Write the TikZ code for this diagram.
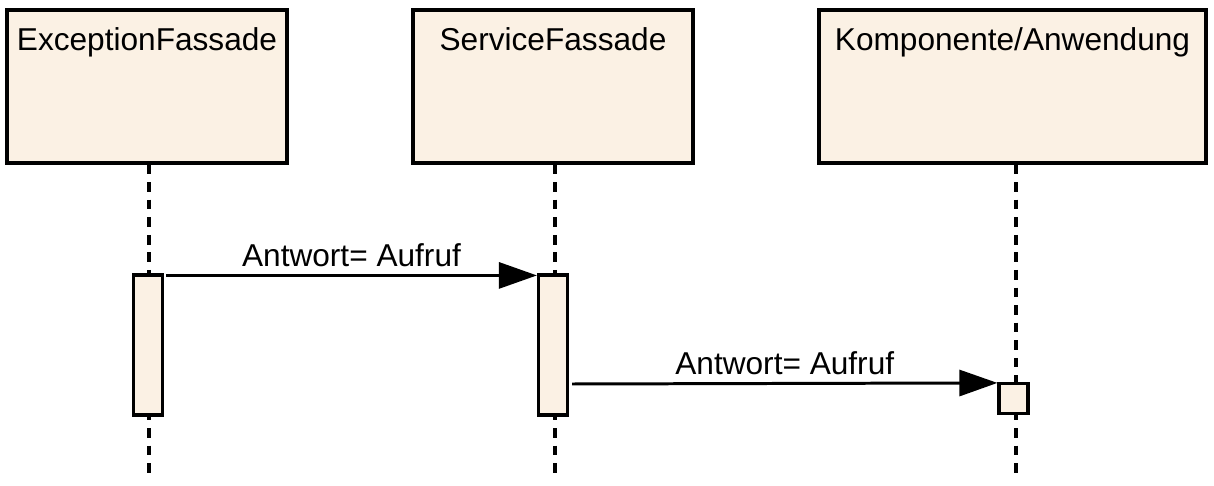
\documentclass[tikz,border=0pt]{standalone}
\usepackage{fontspec}
\setmainfont{Liberation Sans}
\usepackage{xcolor}
\usetikzlibrary{calc,arrows.meta}
\definecolor{umlfill}{RGB}{251,241,228}

\begin{document}
\begin{tikzpicture}[x=0.02cm,y=-0.02cm,
  lifebox/.style={draw,line width=1.8pt,fill=umlfill,minimum height=3.06cm,inner sep=0pt},
  actbox/.style={draw,line width=1.8pt,fill=umlfill,minimum width=0.58cm,inner sep=0pt},
  lifeline/.style={line width=2pt,dash pattern=on 5.5pt off 4.5pt},
  msg/.style={line width=1.7pt,-{Triangle[length=0.76cm,width=0.52cm]}},
  lbl/.style={font=\fontsize{18}{21}\selectfont}]
\useasboundingbox (0,0) rectangle (1214,486);
% lifeline heads
\node[lifebox,minimum width=5.6cm] (exc) at (147,86.5) {};
\node[lifebox,minimum width=5.6cm] (srv) at (553,86.5) {};
\node[lifebox,minimum width=7.74cm] (kom) at (1012.5,86.5) {};
\node[lbl,anchor=north] (excT) at ($(exc.north)+(0,13)$) {ExceptionFassade};
\node[lbl,anchor=north] (srvT) at ($(srv.north)+(0,13)$) {ServiceFassade};
\node[lbl,anchor=north] (komT) at ($(kom.north)+(0,13)$) {Komponente/Anwendung};
% lifelines
\coordinate (excE) at (149,475);
\coordinate (srvE) at (555,475);
\coordinate (komE) at (1016,475);
\draw[lifeline] (excE |- exc.south) -- (excE);
\draw[lifeline] (srvE |- srv.south) -- (srvE);
\draw[lifeline] (komE |- kom.south) -- (komE);
% activations
\node[actbox,minimum height=2.8cm] (excA) at (148,345) {};
\node[actbox,minimum height=2.8cm] (srvA) at (553,345) {};
\node[actbox,minimum height=0.6cm] (komA) at (1013.5,398.5) {};
% messages
\draw[msg] ($(excA.north east)+(2,2)$) -- node[lbl,above=1pt]{Antwort= Aufruf} ($(srvA.north west)+(0,2)$);
\draw[msg] ($(srvA.east)+(3,39)$) -- node[lbl,above=1pt]{Antwort= Aufruf} ($(komA.north west)+(0,1)$);
\end{tikzpicture}
\end{document}
